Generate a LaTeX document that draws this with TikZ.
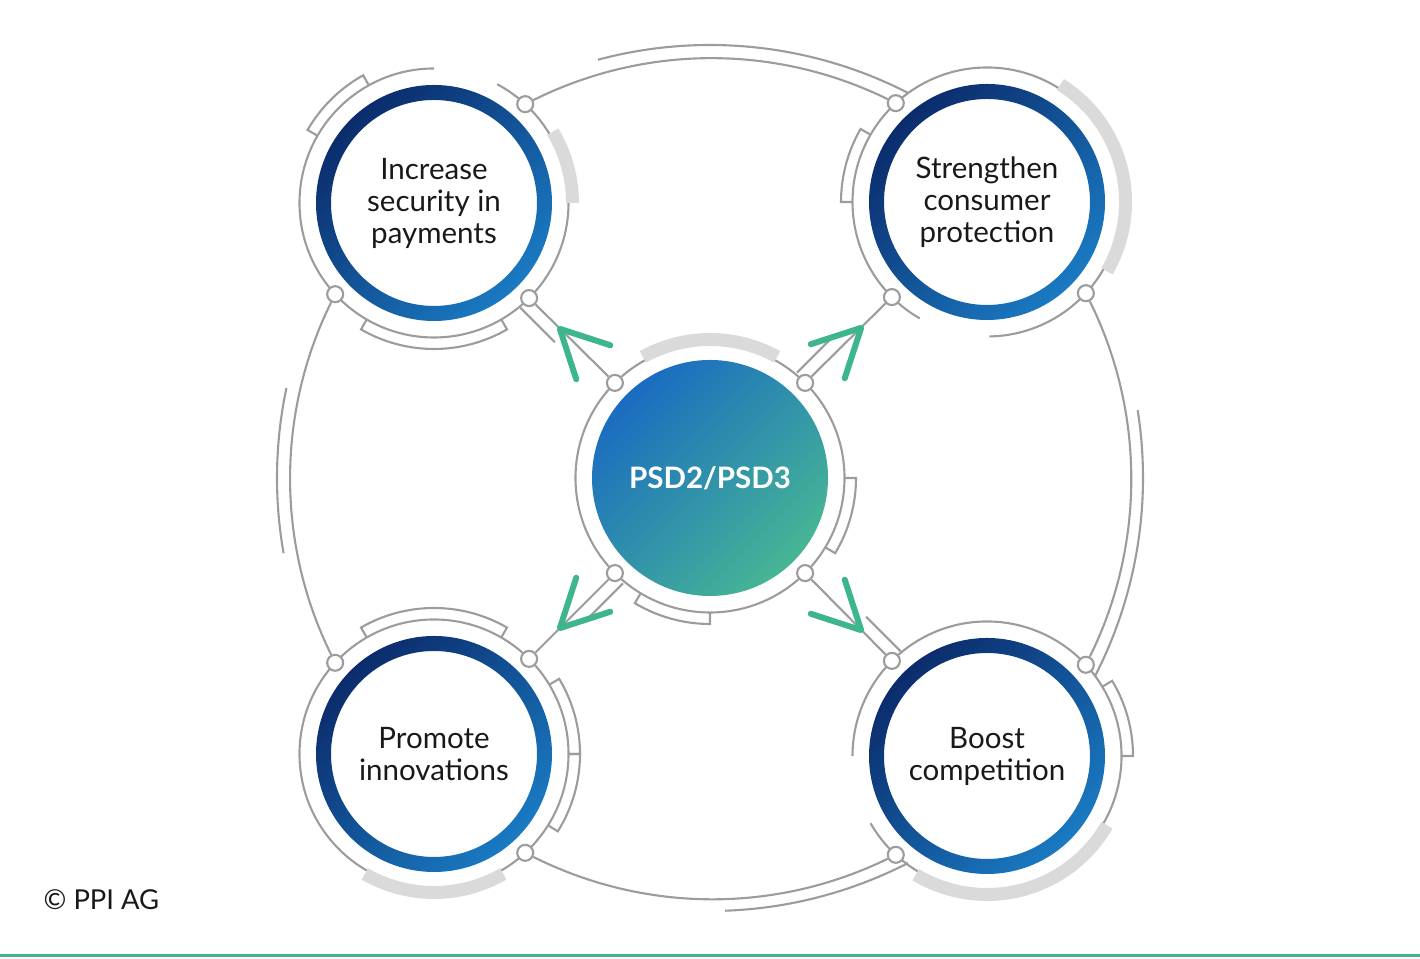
\documentclass[tikz,border=0pt]{standalone}
\usepackage{fontspec}
\setmainfont{Lato}
\usetikzlibrary{calc}
\definecolor{navy}{HTML}{0B2C6C}
\definecolor{skyblue}{HTML}{1A7AC2}
\definecolor{psdblue}{HTML}{1A6CC0}
\definecolor{psdgreen}{HTML}{47B695}
\definecolor{arrowgreen}{HTML}{3DB58F}
\definecolor{wiregrey}{HTML}{9C9C9C}
\definecolor{bandgrey}{HTML}{DADADA}

\begin{document}
\begin{tikzpicture}[
  wire/.style={draw=wiregrey, line width=0.6pt},
  band/.style={draw=bandgrey, line width=0.13cm},
  knob/.style={circle, draw=wiregrey, line width=0.6pt, fill=white, minimum size=0.16cm, inner sep=0pt},
  chev/.style={draw=arrowgreen, line width=0.06cm, line cap=round, line join=round},
  goal/.style={align=center, text=black!90, font=\fontsize{8.4}{9.1}\selectfont},
  arcto/.style={bend left=26.3, looseness=0.9}
]
\useasboundingbox (0,0) rectangle (14.2,9.59);

\node[goal] (tl) at (4.34,7.56) {Increase\\security in\\payments};
\node[goal] (tr) at (9.87,7.57) {Strengthen\\consumer\\protection};
\node[goal] (bl) at (4.34,2.05) {Promote\\innovations};
\node[goal] (br) at (9.87,2.03) {Boost\\competition};
\node[circle, minimum size=2.36cm, inner sep=0pt, top color=psdblue, bottom color=psdgreen, shading angle=45,
  text=white, font=\fontsize{8.4}{10}\selectfont\bfseries] (psd) at (7.10,4.81) {PSD2/PSD3};

% blue rings
\foreach \s in {tl,tr,bl,br}
  \shade[top color=navy, bottom color=skyblue, shading angle=45, even odd rule]
    (\s.center) circle (1.18) (\s.center) circle (1.03);

% thin rings
\draw[wire] (psd.center) circle (1.345);
\draw[wire] (bl.center) circle (1.345);
\draw[wire] ([shift={(90:1.345)}]tl.center) arc[start angle=90, end angle=422, radius=1.345];
\draw[wire] ([shift={(-89:1.345)}]tr.center) arc[start angle=-89, end angle=240, radius=1.345];
\draw[wire] ([shift={(210:1.345)}]br.center) arc[start angle=210, end angle=540, radius=1.345];

% grey bands
\foreach \c/\a/\b in {psd/61/119, tl/0/31, tr/-30/58, br/-121/-30, bl/-120/-60}
  \draw[band] ([shift={(\a:1.385)}]\c.center) arc[start angle=\a, end angle=\b, radius=1.385];

% brackets
\foreach \c/\a/\b in {tl/119/150, tl/-120/-60, tr/150/180, br/0/31, bl/60/120, bl/-32/0, bl/0/31, psd/-31/0, psd/-121/-90}
  \draw[wire] ([shift={(\a:1.345)}]\c.center) -- ([shift={(\a:1.46)}]\c.center)
    arc[start angle=\a, end angle=\b, radius=1.46] -- ([shift={(\b:1.345)}]\c.center);

% outer arcs
\foreach \a/\b in {62.8/105, 168/190, -27.2/9, -88/-62.8}
  \draw[wire] ([shift={(\a:4.33)}]psd.center) arc[start angle=\a, end angle=\b, radius=4.33];

% knobs
\foreach \s/\d in {tl/-45, tr/-135, bl/45, br/135} {
  \node[knob] (\s-in) at ([shift={(\d:1.345)}]\s.center) {};
  \node[knob] (\s-cw) at ([shift={(\d+92.3:1.345)}]\s.center) {};
  \node[knob] (\s-ccw) at ([shift={(\d-92.3:1.345)}]\s.center) {};
  \node[knob] (psd-\s) at ([shift={(\d+180:1.345)}]psd.center) {};
}

\draw[wire] (tl-cw) to[arcto] (tr-ccw);
\draw[wire] (tr-cw) to[arcto] (br-ccw);
\draw[wire] (br-cw) to[arcto] (bl-ccw);
\draw[wire] (bl-cw) to[arcto] (tl-ccw);
\foreach \s in {tl,tr,bl,br}
  \draw[wire] (\s-in) -- (psd-\s);

\draw[wire] ($(tl.center)+(-45:1.35)+(-135:0.13)$) -- ($(tl.center)+(-45:1.84)+(-135:0.13)$);
\draw[wire] ($(psd.center)+(45:1.36)+(135:0.13)$) -- ($(psd.center)+(45:1.84)+(135:0.13)$);
\draw[wire] ($(psd.center)+(225:1.36)+(-45:0.13)$) -- ($(psd.center)+(225:1.84)+(-45:0.13)$);
\draw[wire] ($(br.center)+(135:1.35)+(45:0.13)$) -- ($(br.center)+(135:1.84)+(45:0.13)$);

% arrows
\foreach \s/\d in {tl/-45, tr/-135, bl/45, br/135}
  \draw[chev] ($(\s.center)+(\d:1.78)+(\d+27:0.53)$) -- ($(\s.center)+(\d:1.78)$)
    -- ($(\s.center)+(\d:1.78)+(\d-27:0.53)$);

\node[anchor=base west, inner sep=0pt, text=black!90, font=\fontsize{7.8}{9}\selectfont] (copy) at (0.43,0.49) {© PPI AG};
\draw[arrowgreen, line width=0.03cm] (0,0.035) -- (14.2,0.035);
\end{tikzpicture}
\end{document}
